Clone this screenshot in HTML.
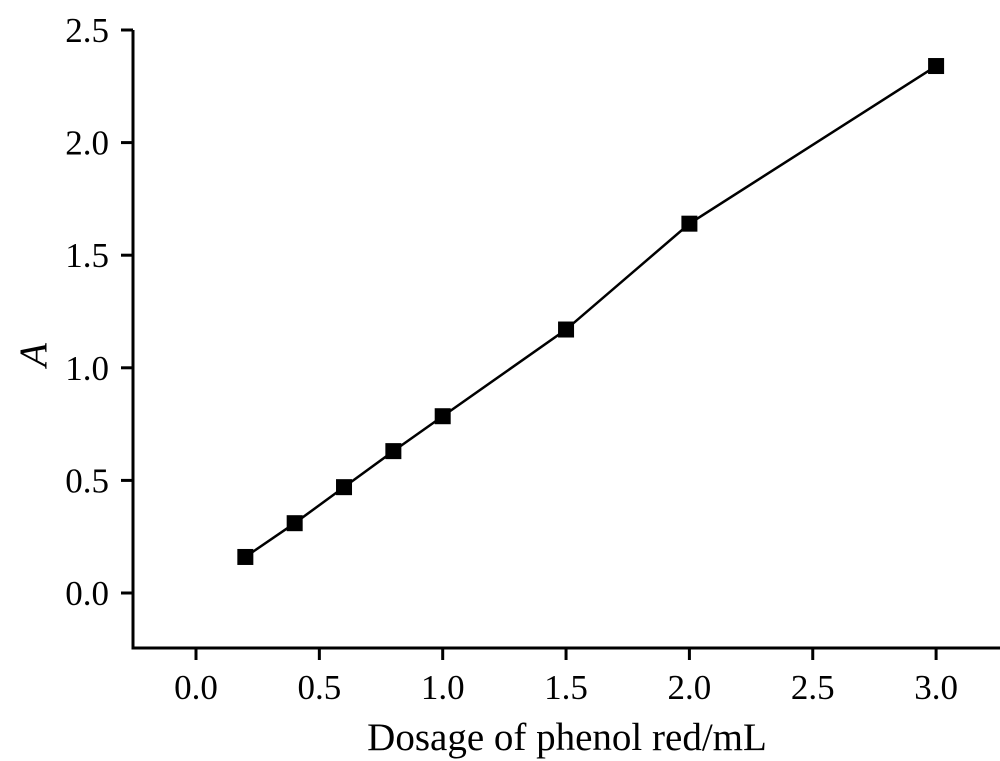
<!DOCTYPE html>
<html><head><meta charset="utf-8"><style>body{margin:0;background:#fff}svg{display:block}text{font-family:"Liberation Serif",serif;fill:#000}</style></head>
<body>
<svg id="c" width="1000" height="761"></svg>
<script>
const xValues=[0.2,0.4,0.6,0.8,1.0,1.5,2.0,3.0];
const yValues=[0.16,0.31,0.47,0.63,0.785,1.17,1.64,2.34];
const xTicks=[0.0,0.5,1.0,1.5,2.0,2.5,3.0];
const yTicks=[0.0,0.5,1.0,1.5,2.0,2.5];
const ns="http://www.w3.org/2000/svg",svg=document.getElementById('c');
const X=v=>196+v*246.7, Y=v=>593-v*225.2;
function mk(t,a,p){const e=document.createElementNS(ns,t);for(const k in a)e.setAttribute(k,a[k]);(p||svg).appendChild(e);return e;}
let e;
e=mk('path',{d:'M133,30V648H1000',fill:'none',stroke:'#000','stroke-width':3});


yTicks.forEach(v=>{
 e=mk('line',{x1:121,x2:133,y1:Y(v),y2:Y(v),stroke:'#000','stroke-width':3});
 
 
 e=mk('text',{x:109,y:Y(v)+12,'text-anchor':'end','font-size':35});e.textContent=v.toFixed(1);
 
 
});
xTicks.forEach(v=>{
 e=mk('line',{x1:X(v),x2:X(v),y1:648,y2:660,stroke:'#000','stroke-width':3});
 
 
 e=mk('text',{x:X(v),y:699,'text-anchor':'middle','font-size':35});e.textContent=v.toFixed(1);
 
 
});
e=mk('polyline',{points:xValues.map((x,i)=>X(x)+','+Y(yValues[i])).join(' '),fill:'none',stroke:'#000','stroke-width':2.5});


xValues.forEach((x,i)=>{
 e=mk('rect',{x:X(x)-8,y:Y(yValues[i])-8,width:16,height:16,fill:'#000'});
 
 
});
e=mk('text',{x:567,y:750,'text-anchor':'middle','font-size':39});e.textContent='Dosage of phenol red/mL';


e=mk('text',{x:0,y:0,'text-anchor':'middle','font-size':39,'font-style':'italic',transform:'translate(46,355) rotate(-90)'});e.textContent='A';


</script>
</body></html>
